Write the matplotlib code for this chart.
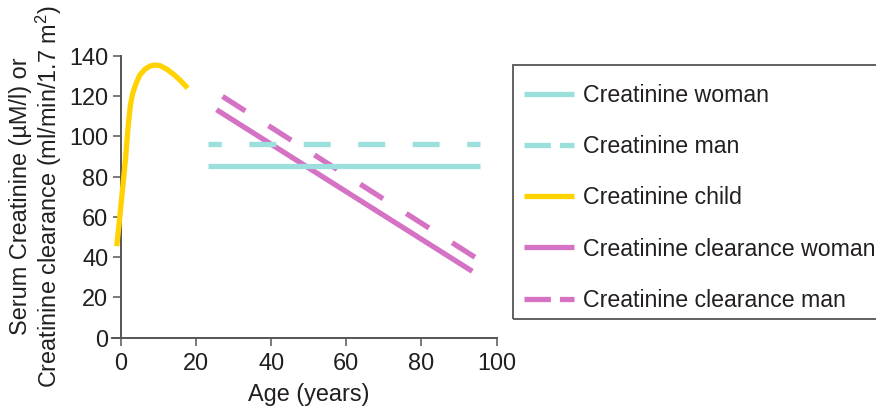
import matplotlib

matplotlib.use("Agg")

import matplotlib.pyplot as plt
from matplotlib.lines import Line2D
from matplotlib.patches import Rectangle

# values
child_age = [-1.05, -0.45, 0.43, 1.3, 1.8, 2.2, 2.6, 3.2, 4.1, 5.1, 6.5, 7.8, 9.1,
             10.5, 12.2, 14.0, 15.8, 17.8]
child_creat = [45.5, 56, 72.6, 89, 100.7, 109, 115.7, 121.5, 126.4, 130.6, 133.5, 135,
               135.5, 135.2, 133.5, 131, 128, 124]

adult_age = [23.2, 95.5]
woman_creat = [85.3, 85.3]
man_creat = [96.2, 96.2]

clear_woman_age = [25.5, 93.5]
clear_woman = [113.3, 33.0]
clear_man_age = [27.1, 94.7]
clear_man = [119.9, 39.4]

x_ticks = [0, 20, 40, 60, 80, 100]
y_ticks = [0, 20, 40, 60, 80, 100, 120, 140]

labels = [
    "Creatinine woman",
    "Creatinine man",
    "Creatinine child",
    "Creatinine clearance woman",
    "Creatinine clearance man",
]

CYAN = "#9be0dc"
YELLOW = "#ffd200"
MAGENTA = "#d672c4"
INK = "#231f20"
AXIS = "#555555"

plt.rcParams["font.family"] = ["Liberation Sans", "DejaVu Sans"]
plt.rcParams["mathtext.fontset"] = "custom"
plt.rcParams["mathtext.rm"] = "Liberation Sans"
plt.rcParams["mathtext.it"] = "Liberation Sans"
plt.rcParams["lines.scale_dashes"] = False

fig = plt.figure(figsize=(8.76, 4.07), dpi=100)
ax = fig.add_axes([112.4 / 876, (407 - 337.7) / 407, (496.7 - 112.4) / 876, (337.7 - 56) / 407])

lw = 3.8
dash = (19.4, 19.8)
ax.plot(clear_woman_age, clear_woman, color=MAGENTA, lw=lw, solid_capstyle="butt", zorder=2)
ax.plot(clear_man_age, clear_man, color=MAGENTA, lw=lw, linestyle=(0, dash),
        dash_capstyle="butt", zorder=2)
ax.plot(adult_age, woman_creat, color=CYAN, lw=lw, solid_capstyle="butt", zorder=3)
ax.plot(adult_age, man_creat, color=CYAN, lw=lw, linestyle=(9.8, dash),
        dash_capstyle="butt", zorder=3)
ax.plot(child_age, child_creat, color=YELLOW, lw=lw, solid_capstyle="butt",
        solid_joinstyle="round", zorder=4, clip_on=False)

ax.set_xlim(-2.2, 100)
ax.set_ylim(0, 140)
ax.spines["left"].set_position(("data", 0))
for side in ("top", "right"):
    ax.spines[side].set_visible(False)
for side in ("left", "bottom"):
    ax.spines[side].set_color(AXIS)
    ax.spines[side].set_linewidth(1.4)
ax.set_xticks(x_ticks)
ax.set_yticks(y_ticks)
ax.tick_params(length=6, width=1.1, color=AXIS, labelsize=16.9, labelcolor=INK)
ax.tick_params(axis="x", pad=4)
ax.tick_params(axis="y", pad=3)
ax.patch.set_visible(False)

fs = 16.9
fig.text(308.7 / 876, (407 - 395) / 407, "Age (years)", ha="center", va="center",
         fontsize=fs, color=INK)
fig.text(21 / 876, 0.517, "Serum Creatinine (\u00b5M/l) or", rotation=90,
         ha="center", va="center", fontsize=fs, color=INK)
fig.text(49 / 876, 0.517, "Creatinine clearance (ml/min/1.7 m$^2$)", rotation=90,
         ha="center", va="center", fontsize=fs, color=INK)

handles = [
    Line2D([], [], color=CYAN, lw=lw, solid_capstyle="butt"),
    Line2D([], [], color=CYAN, lw=lw, linestyle=(0, (19, 6.5)), dash_capstyle="butt"),
    Line2D([], [], color=YELLOW, lw=lw, solid_capstyle="butt"),
    Line2D([], [], color=MAGENTA, lw=lw, solid_capstyle="butt"),
    Line2D([], [], color=MAGENTA, lw=lw, linestyle=(0, (19, 6.5)), dash_capstyle="butt"),
]
lfs = 16.7
px = lfs * 100 / 72
fig.legend(handles, labels, loc="center left", bbox_to_anchor=(524 / 876, (407 - 197.8) / 407),
           frameon=False, fontsize=lfs, labelcolor=INK, borderpad=0, borderaxespad=0,
           handlelength=50 / px, handletextpad=8.7 / px, labelspacing=1.22)
fig.patches.append(Rectangle((513.3 / 876, (407 - 319.3) / 407), 0.5, (319.3 - 65) / 407,
                             transform=fig.transFigure, fill=False, edgecolor=AXIS,
                             linewidth=1.3))

fig.savefig("out.png", dpi=100)
